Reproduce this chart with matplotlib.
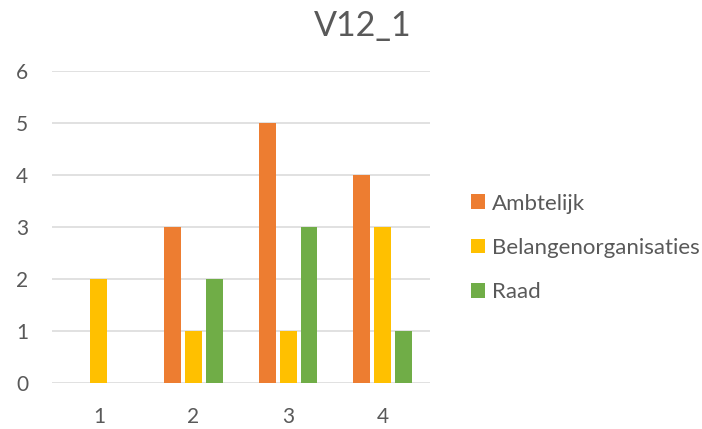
import numpy as np
import matplotlib
matplotlib.use("Agg")
import matplotlib.pyplot as plt
from matplotlib.patches import Patch

categories = [1, 2, 3, 4]
series_names = ["Ambtelijk", "Belangenorganisaties", "Raad"]
ambtelijk = [0, 3, 5, 4]
belangen = [2, 1, 1, 3]
raad = [0, 2, 3, 1]
colors = ["#ED7D31", "#FFC000", "#70AD47"]
yticks = [0, 1, 2, 3, 4, 5, 6]

plt.rcParams['font.family'] = ['Lato', 'DejaVu Sans']
text_color = "#595959"

fig = plt.figure(figsize=(7.02, 4.29), dpi=100)
ax = fig.add_axes([0.0736, 0.1065, 0.5389, 0.7273])

x = np.array(categories, dtype=float)
width = 0.179
step = 0.221
for i, (vals, col) in enumerate(zip([ambtelijk, belangen, raad], colors)):
    ax.bar(x + (i - 1) * step, vals, width=width, color=col, zorder=3)

ax.set_xlim(0.5, 4.5)
ax.set_ylim(0, 6)
ax.set_yticks(yticks)
ax.set_xticks(categories)
ax.yaxis.grid(True, color="#D9D9D9", linewidth=1.1, zorder=0)
for s in ax.spines.values():
    s.set_visible(False)
ax.tick_params(axis='both', length=0, labelsize=15, colors=text_color)
ax.tick_params(axis='y', pad=17)
ax.tick_params(axis='x', pad=17)

fig.text(0.516, 0.94, "V12_1", fontsize=24.5, color=text_color,
         ha='center', va='center')

# legend on the right, square colour keys
handles = [Patch(facecolor=c, edgecolor='none') for c in colors]
leg = fig.legend(handles, series_names, loc='center left',
                 bbox_to_anchor=(0.671, 0.422), frameon=False,
                 borderpad=0, borderaxespad=0,
                 fontsize=16, handlelength=0.63, handleheight=0.63,
                 handletextpad=0.3, labelspacing=1.1, labelcolor=text_color)

fig.savefig("out.png", dpi=100)
